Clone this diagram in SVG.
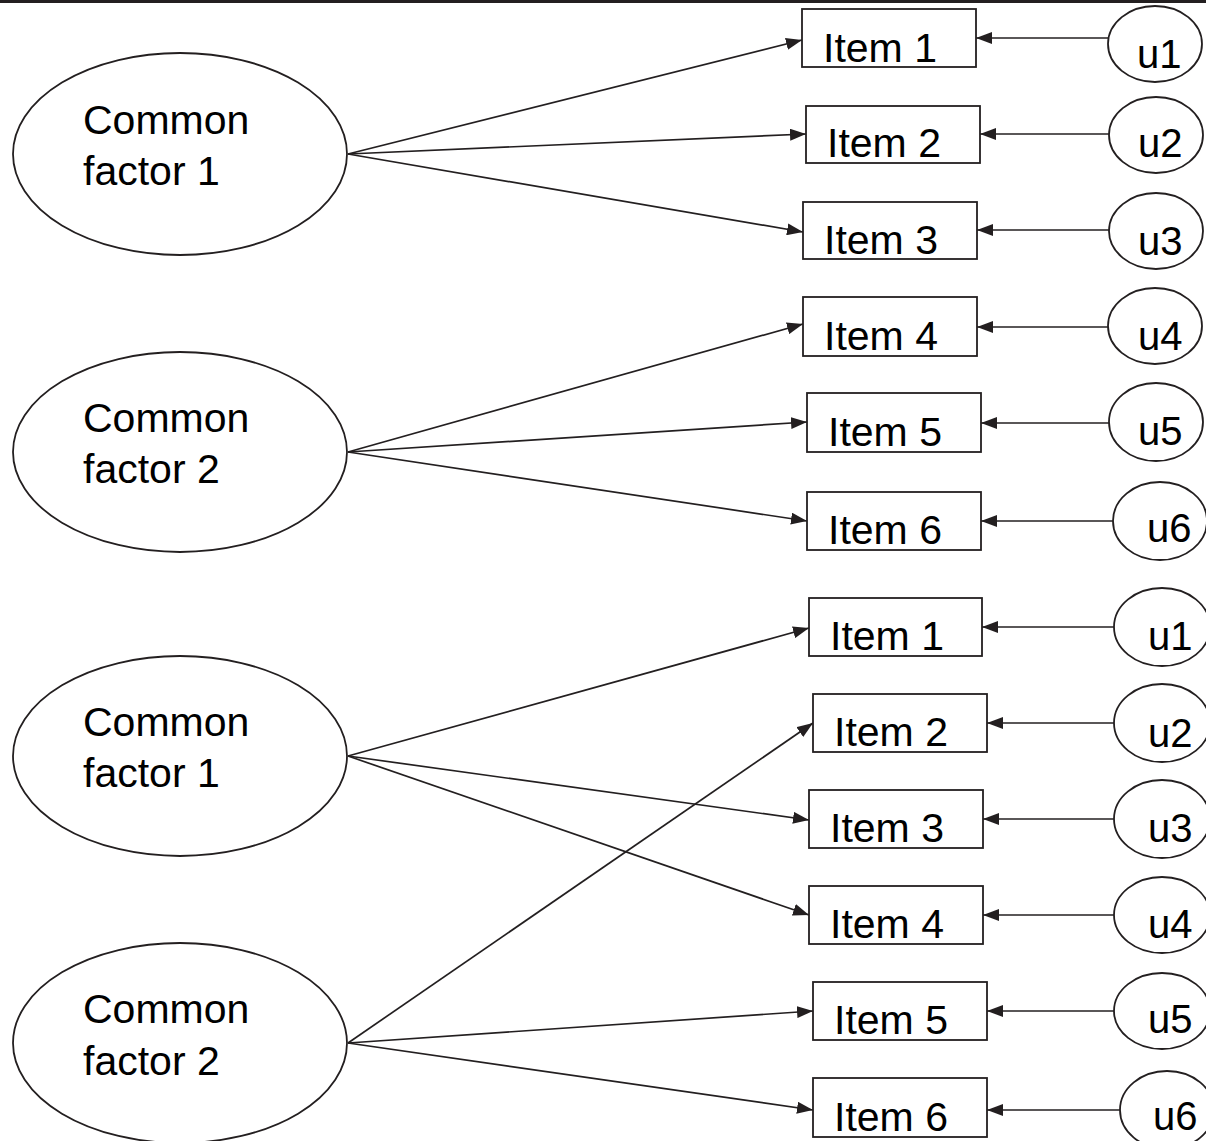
<svg xmlns="http://www.w3.org/2000/svg" width="1206" height="1141" viewBox="0 0 1206 1141">
<style>
.shape{fill:#fff;stroke:#231f20;stroke-width:1.8}
.lbl{font-family:"Liberation Sans",Arial,sans-serif;font-size:41px;fill:#000}
.ulbl{font-family:"Liberation Sans",Arial,sans-serif;font-size:40px;fill:#000}
.conn line{stroke:#231f20;stroke-width:1.7;marker-end:url(#ah)}
</style>
<defs>
<marker id="ah" markerUnits="userSpaceOnUse" viewBox="0 0 16 12" markerWidth="16" markerHeight="12" refX="16" refY="6" orient="auto">
<path d="M0,0 L16,6 L0,12 z" fill="#231f20"/>
</marker>
</defs>
<rect x="0" y="0" width="1206" height="3" fill="#231f20"/>

<g id="connectors" class="conn">
<line x1="348" y1="154" x2="802" y2="40"/>
<line x1="348" y1="154" x2="806" y2="134"/>
<line x1="348" y1="154" x2="803" y2="232"/>
<line x1="348" y1="452" x2="803" y2="324"/>
<line x1="348" y1="452" x2="807" y2="422"/>
<line x1="348" y1="452" x2="807" y2="521"/>
<line x1="348" y1="756" x2="809" y2="628"/>
<line x1="348" y1="756" x2="809" y2="820"/>
<line x1="348" y1="756" x2="809" y2="915"/>
<line x1="348" y1="1043" x2="813" y2="723"/>
<line x1="348" y1="1043" x2="813" y2="1011"/>
<line x1="348" y1="1043" x2="813" y2="1110"/>
<line x1="1108" y1="38" x2="976" y2="38"/>
<line x1="1109" y1="134" x2="980" y2="134"/>
<line x1="1109" y1="230" x2="977" y2="230"/>
<line x1="1108" y1="327" x2="977" y2="327"/>
<line x1="1109" y1="423" x2="981" y2="423"/>
<line x1="1113" y1="521" x2="981" y2="521"/>
<line x1="1114" y1="627" x2="982" y2="627"/>
<line x1="1114" y1="723" x2="987" y2="723"/>
<line x1="1114" y1="819" x2="983" y2="819"/>
<line x1="1114" y1="915" x2="983" y2="915"/>
<line x1="1114" y1="1011" x2="987" y2="1011"/>
<line x1="1120" y1="1110" x2="987" y2="1110"/>
</g>

<g id="factor1-top"><ellipse class="shape" cx="180" cy="154" rx="167" ry="101"/><text class="lbl" x="83" y="134">Common</text><text class="lbl" x="83" y="185">factor 1</text></g>
<g id="factor2-top"><ellipse class="shape" cx="180" cy="452" rx="167" ry="100"/><text class="lbl" x="83" y="432">Common</text><text class="lbl" x="83" y="483">factor 2</text></g>
<g id="factor1-bottom"><ellipse class="shape" cx="180" cy="756" rx="167" ry="100"/><text class="lbl" x="83" y="736">Common</text><text class="lbl" x="83" y="787">factor 1</text></g>
<g id="factor2-bottom"><ellipse class="shape" cx="180" cy="1043" rx="167" ry="100"/><text class="lbl" x="83" y="1023">Common</text><text class="lbl" x="83" y="1075">factor 2</text></g>

<g id="item1-top"><rect class="shape" x="802" y="9" width="174" height="58"/><text class="lbl" x="823" y="62">Item 1</text></g>
<g id="item2-top"><rect class="shape" x="806" y="106" width="174" height="57"/><text class="lbl" x="827" y="157">Item 2</text></g>
<g id="item3-top"><rect class="shape" x="803" y="202" width="174" height="57"/><text class="lbl" x="824" y="254">Item 3</text></g>
<g id="item4-top"><rect class="shape" x="803" y="297" width="174" height="59"/><text class="lbl" x="824" y="350">Item 4</text></g>
<g id="item5-top"><rect class="shape" x="807" y="393" width="174" height="59"/><text class="lbl" x="828" y="446">Item 5</text></g>
<g id="item6-top"><rect class="shape" x="807" y="492" width="174" height="58"/><text class="lbl" x="828" y="544">Item 6</text></g>

<g id="item1-bottom"><rect class="shape" x="809" y="598" width="173" height="58"/><text class="lbl" x="830" y="650">Item 1</text></g>
<g id="item2-bottom"><rect class="shape" x="813" y="694" width="174" height="58"/><text class="lbl" x="834" y="746">Item 2</text></g>
<g id="item3-bottom"><rect class="shape" x="809" y="790" width="174" height="58"/><text class="lbl" x="830" y="842">Item 3</text></g>
<g id="item4-bottom"><rect class="shape" x="809" y="886" width="174" height="58"/><text class="lbl" x="830" y="938">Item 4</text></g>
<g id="item5-bottom"><rect class="shape" x="813" y="982" width="174" height="58"/><text class="lbl" x="834" y="1034">Item 5</text></g>
<g id="item6-bottom"><rect class="shape" x="813" y="1078" width="174" height="59"/><text class="lbl" x="834" y="1131">Item 6</text></g>

<g id="u1-top"><ellipse class="shape" cx="1155" cy="44" rx="47" ry="38"/><text class="ulbl" x="1137" y="68">u1</text></g>
<g id="u2-top"><ellipse class="shape" cx="1156" cy="135" rx="47" ry="38"/><text class="ulbl" x="1138" y="157">u2</text></g>
<g id="u3-top"><ellipse class="shape" cx="1156" cy="231" rx="47" ry="38"/><text class="ulbl" x="1138" y="255">u3</text></g>
<g id="u4-top"><ellipse class="shape" cx="1155" cy="326" rx="47" ry="38"/><text class="ulbl" x="1138" y="350">u4</text></g>
<g id="u5-top"><ellipse class="shape" cx="1156" cy="422" rx="47" ry="39"/><text class="ulbl" x="1138" y="445">u5</text></g>
<g id="u6-top"><ellipse class="shape" cx="1160" cy="521" rx="47" ry="39"/><text class="ulbl" x="1147" y="542">u6</text></g>

<g id="u1-bottom"><ellipse class="shape" cx="1162" cy="627" rx="48" ry="39"/><text class="ulbl" x="1148" y="650">u1</text></g>
<g id="u2-bottom"><ellipse class="shape" cx="1162" cy="723" rx="48" ry="39"/><text class="ulbl" x="1148" y="747">u2</text></g>
<g id="u3-bottom"><ellipse class="shape" cx="1162" cy="819" rx="48" ry="39"/><text class="ulbl" x="1148" y="842">u3</text></g>
<g id="u4-bottom"><ellipse class="shape" cx="1162" cy="915" rx="48" ry="38"/><text class="ulbl" x="1148" y="938">u4</text></g>
<g id="u5-bottom"><ellipse class="shape" cx="1162" cy="1011" rx="48" ry="38"/><text class="ulbl" x="1148" y="1033">u5</text></g>
<g id="u6-bottom"><ellipse class="shape" cx="1167" cy="1110" rx="47" ry="39"/><text class="ulbl" x="1153" y="1130">u6</text></g>
</svg>
